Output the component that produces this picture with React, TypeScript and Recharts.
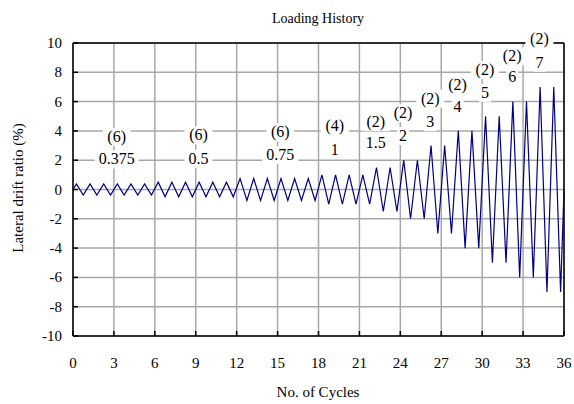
import React from 'react';
import { LineChart, Line, XAxis, YAxis, CartesianGrid, ReferenceLine, ReferenceDot } from 'recharts';

// drift amplitude (%) of each loading stage and how many cycles it runs
const levels = [0.375, 0.5, 0.75, 1, 1.5, 2, 3, 4, 5, 6, 7];
const cycleCounts = [6, 6, 6, 4, 2, 2, 2, 2, 2, 2, 2];

const xTicks = [0, 3, 6, 9, 12, 15, 18, 21, 24, 27, 30, 33, 36];
const yTicks = [-10, -8, -6, -4, -2, 0, 2, 4, 6, 8, 10];

// where the stage annotations sit (chart units)
const labelX = [3.2, 9.2, 15.2, 19.2, 22.2, 24.2, 26.2, 28.2, 30.2, 32.2, 34.2];
const countLabelY = [3.6, 3.7, 3.9, 4.35, 4.6, 5.2, 6.2, 7.1, 8.15, 9.1, 10.25];
const levelLabelY = [2.05, 2.1, 2.35, 2.7, 3.15, 3.65, 4.6, 5.6, 6.6, 7.7, 8.65];

// one peak and one trough per cycle
const history: { x: number; y: number }[] = [{ x: 0, y: 0 }];
let cyc = 0;
levels.forEach((amp, i) => {
  for (let k = 0; k < cycleCounts[i]; k++) {
    history.push({ x: cyc + 0.25, y: amp });
    history.push({ x: cyc + 0.75, y: -amp });
    cyc++;
  }
});
history.push({ x: cyc, y: 0 });

const XTick = ({ x, y, payload }: any) => (
  <g>
    <line x1={x} x2={x} y1={y} y2={y - 5} stroke="#000" strokeWidth={1.5} />
    <text x={x} y={y + 32} textAnchor="middle" fontSize={15} fill="#000">
      {payload.value}
    </text>
  </g>
);

const YTick = ({ x, y, payload }: any) => (
  <g>
    <line x1={x} x2={x + 5} y1={y} y2={y} stroke="#000" strokeWidth={1.5} />
    <text x={x - 11} y={y + 5} textAnchor="end" fontSize={15} fill="#000">
      {payload.value}
    </text>
  </g>
);

const boxLabel = (text: string) => (p: any) => {
  const w = text.length * 8 + 4;
  return (
    <g>
      <rect x={p.cx - w / 2} y={p.cy - 9} width={w} height={18} fill="#fff" />
      <text x={p.cx} y={p.cy + 5} textAnchor="middle" fontSize={16} fill="#000">
        {text}
      </text>
    </g>
  );
};

export default function App() {
  return (
    <>
      <style>{'body{margin:0}'}</style>
      <div style={{ position: 'relative', width: 574, height: 404 }}>
        <LineChart width={574} height={404} data={history} margin={{ top: 43, right: 10, bottom: 0, left: 0 }}>
          <CartesianGrid stroke="#a8a8a8" strokeWidth={1.5} />
          <XAxis
            dataKey="x"
            type="number"
            domain={[0, 36]}
            ticks={xTicks}
            height={68}
            tickLine={false}
            tickSize={0}
            tickMargin={0}
            tick={<XTick />}
            axisLine={{ stroke: '#000', strokeWidth: 1.5 }}
          />
          <YAxis
            type="number"
            domain={[-10, 10]}
            ticks={yTicks}
            width={73}
            tickLine={false}
            tickSize={0}
            tickMargin={0}
            tick={<YTick />}
            axisLine={{ stroke: '#000', strokeWidth: 1.5 }}
          />
          <ReferenceLine y={10} stroke="#000" strokeWidth={1.5} />
          <ReferenceLine x={36} stroke="#000" strokeWidth={1.5} />
          <Line
            dataKey="y"
            type="linear"
            stroke="#000080"
            strokeWidth={1.2}
            dot={false}
            isAnimationActive={false}
          />
          {levels.map((lv, i) => (
            <ReferenceDot
              key={`c${i}`}
              x={labelX[i]}
              y={countLabelY[i]}
              r={1}
              ifOverflow="visible"
              shape={boxLabel(`(${cycleCounts[i]})`)}
            />
          ))}
          {levels.map((lv, i) => (
            <ReferenceDot
              key={`l${i}`}
              x={labelX[i]}
              y={levelLabelY[i]}
              r={1}
              ifOverflow="visible"
              shape={boxLabel(String(lv))}
            />
          ))}
        </LineChart>
        <svg width={574} height={404} style={{ position: 'absolute', left: 0, top: 0, pointerEvents: 'none' }}>
          <text x={318} y={23} textAnchor="middle" fontSize={14}>Loading History</text>
          <text x={318} y={397} textAnchor="middle" fontSize={15}>No. of Cycles</text>
          <text x={0} y={0} transform="translate(23,188) rotate(-90)" textAnchor="middle" fontSize={15}>
            Lateral drift ratio (%)
          </text>
        </svg>
      </div>
    </>
  );
}
